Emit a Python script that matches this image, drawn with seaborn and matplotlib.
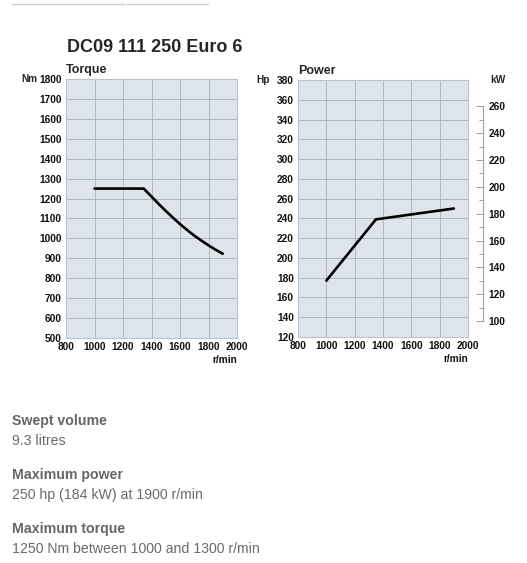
import numpy as np
import pandas as pd
import matplotlib
matplotlib.use('Agg')
import matplotlib.pyplot as plt
import seaborn as sns
from matplotlib.ticker import FixedLocator

# ---- data ----
torque_rpm = [1000, 1100, 1200, 1300, 1345, 1400, 1450, 1500, 1550, 1600,
              1650, 1700, 1750, 1800, 1850, 1900]
torque_nm = [1250, 1250, 1250, 1250, 1250, 1210, 1173, 1138, 1104, 1072,
             1042, 1014, 989, 965, 943, 923]

power_rpm = [1000, 1350, 1600, 1900]
power_hp = [177, 239, 244, 250]

rpm_ticks = [800, 1000, 1200, 1400, 1600, 1800, 2000]
nm_ticks = list(range(500, 1801, 100))
hp_ticks = list(range(120, 381, 20))
kw_ticks = list(range(100, 261, 20))
kw_minor = list(range(110, 251, 20))

HP_TO_KW = 0.7355

title = "DC09 111 250 Euro 6"
specs = [
    ("Swept volume", "9.3 litres"),
    ("Maximum power", "250 hp (184 kW) at 1900 r/min"),
    ("Maximum torque", "1250 Nm between 1000 and 1300 r/min"),
]

sns.set_style("white")
plt.rcParams['font.family'] = ['Liberation Sans', 'DejaVu Sans']

W, H = 527, 563
fig = plt.figure(figsize=(W / 100, H / 100), dpi=100)

def px_axes(x0, y0, x1, y1):
    return fig.add_axes([x0 / W, 1 - y1 / H, (x1 - x0) / W, (y1 - y0) / H])

face = '#dde4eb'
grid_c = '#a8b0b9'
frame_c = '#bcc3cb'
tick_kw = dict(fontsize=7.3, fontweight='bold', color='#111111')

def style_axes(ax, yticks, ylim):
    ax.set_facecolor(face)
    ax.set_xlim(800, 2000)
    ax.set_ylim(*ylim)
    ax.set_xticks(rpm_ticks)
    ax.set_yticks(yticks)
    ax.set_xticklabels([str(t) for t in rpm_ticks], **tick_kw)
    ax.set_yticklabels([str(t) for t in yticks], **tick_kw)
    ax.grid(True, color=grid_c, linewidth=0.6)
    ax.set_axisbelow(True)
    ax.tick_params(length=0, pad=3)
    for s in ax.spines.values():
        s.set_color(frame_c)
        s.set_linewidth(0.8)
    ax.set_xlabel('')
    ax.set_ylabel('')
    ax.text(1.0, -0.065, 'r/min', transform=ax.transAxes, ha='right', va='top', **tick_kw)

# torque panel
ax1 = px_axes(66, 79, 237, 338)
df_t = pd.DataFrame({'rpm': torque_rpm, 'Nm': torque_nm})
sns.lineplot(data=df_t, x='rpm', y='Nm', ax=ax1, color='black', linewidth=1.9)
style_axes(ax1, nm_ticks, (500, 1800))
ax1.text(0.0, 1.01, 'Torque', transform=ax1.transAxes, fontsize=9, fontweight='bold', va='bottom')
fig.text(37 / W, 1 - 79 / H, 'Nm', fontsize=7.3, fontweight='bold', va='center', ha='right')

# power panel
ax2 = px_axes(298, 80, 468, 337)
df_p = pd.DataFrame({'rpm': power_rpm, 'hp': power_hp})
sns.lineplot(data=df_p, x='rpm', y='hp', ax=ax2, color='black', linewidth=1.9)
style_axes(ax2, hp_ticks, (120, 380))
ax2.text(0.0, 1.01, 'Power', transform=ax2.transAxes, fontsize=9, fontweight='bold', va='bottom')
fig.text(256 / W, 1 - 80 / H, 'Hp', fontsize=7.3, fontweight='bold', va='center')

# kW secondary axis
axk = ax2.twinx()
axk.set_ylim(120 * HP_TO_KW, 380 * HP_TO_KW)
for s in ['top', 'bottom', 'left']:
    axk.spines[s].set_visible(False)
axk.spines['right'].set_position(('outward', 11))
axk.spines['right'].set_bounds(100, 260)
axk.spines['right'].set_color('#a0a0a0')
axk.spines['right'].set_linewidth(0.8)
axk.yaxis.set_major_locator(FixedLocator(kw_ticks))
axk.yaxis.set_minor_locator(FixedLocator(kw_minor))
axk.set_yticklabels([str(t) for t in kw_ticks], **tick_kw)
axk.tick_params(axis='y', which='major', direction='in', length=5, width=0.7, color='#a0a0a0', pad=4)
axk.tick_params(axis='y', which='minor', direction='in', length=3, width=0.7, color='#a0a0a0')
axk.set_ylabel('')
axk.grid(False)
fig.text(490 / W, 1 - 80 / H, 'kW', fontsize=7.3, fontweight='bold', va='center')

# heading and decorations
fig.text(67 / W, 1 - 47 / H, title, fontsize=13, fontweight='bold', va='center')
fig.add_artist(plt.Line2D([12 / W, 124 / W], [1 - 4 / H, 1 - 4 / H], color='#cccccc', linewidth=1))
fig.add_artist(plt.Line2D([126 / W, 208 / W], [1 - 4 / H, 1 - 4 / H], color='#cccccc', linewidth=1))

# spec text block
y = 421
for head, val in specs:
    fig.text(12 / W, 1 - y / H, head, fontsize=10.2, fontweight='bold', color='#666666', va='center')
    fig.text(12 / W, 1 - (y + 20) / H, val, fontsize=10.2, color='#6a6a6a', va='center')
    y += 54

fig.savefig('out.png', dpi=100)
